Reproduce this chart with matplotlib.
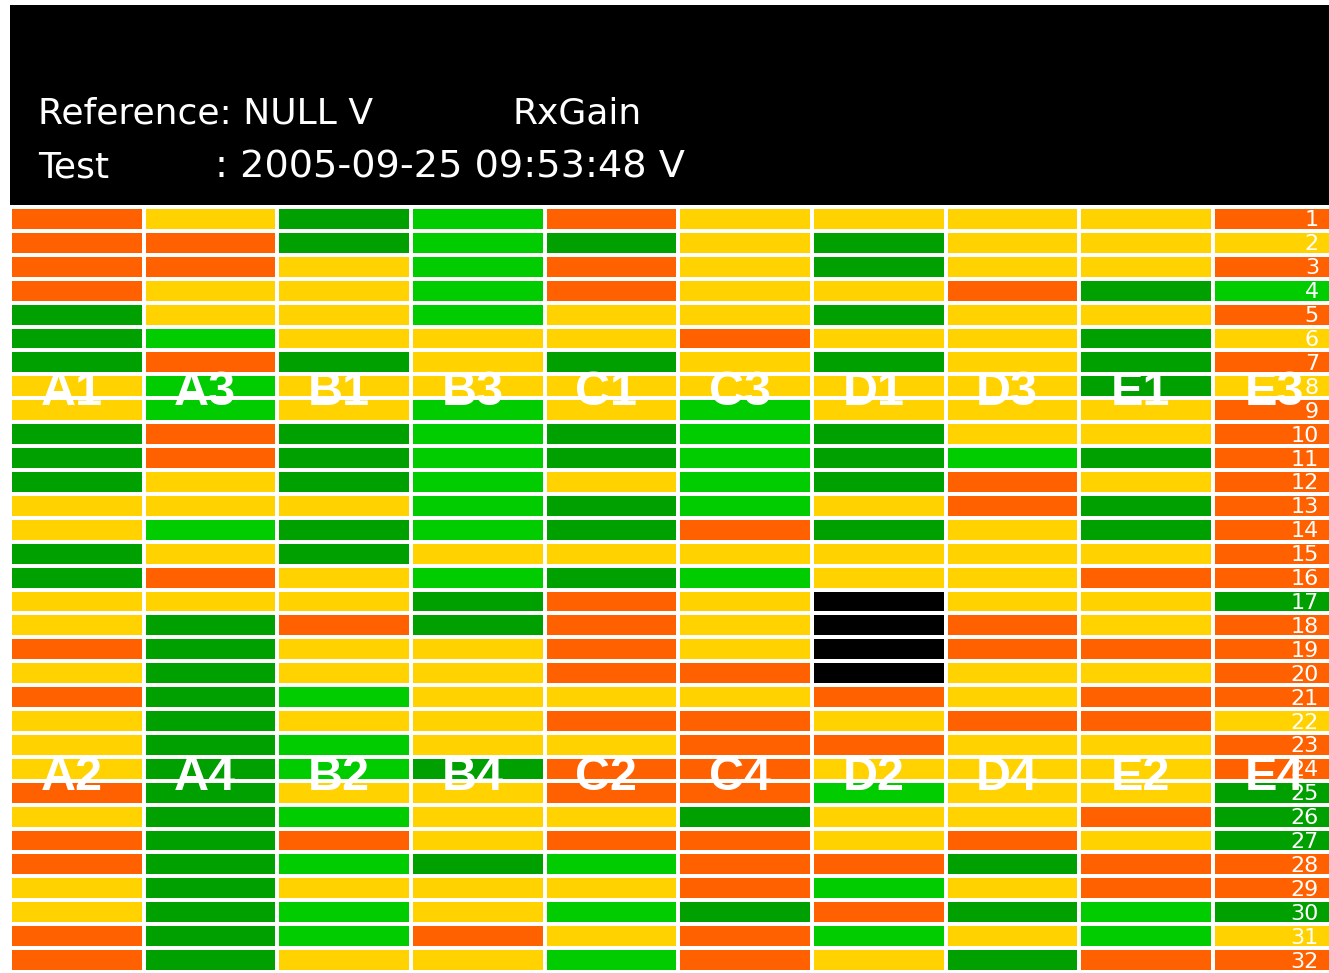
import matplotlib
matplotlib.use("Agg")
import matplotlib.pyplot as plt
from matplotlib.colors import ListedColormap, BoundaryNorm
from matplotlib.patches import Rectangle
import numpy as np

W, H, DPI = 1329, 973, 100

# Module names, top half (rows 1-16) and bottom half (rows 17-32)
modules_top = ["A1", "A3", "B1", "B3", "C1", "C3", "D1", "D3", "E1", "E3"]
modules_bottom = ["A2", "A4", "B2", "B4", "C2", "C4", "D2", "D4", "E2", "E4"]
row_numbers = list(range(1, 33))

# Status per channel: K = no data, O = high deviation, Y = moderate,
# L = good, G = nominal
status_rows = [
    "OYGLOYYYYO",  # 1
    "OOGLGYGYYY",  # 2
    "OOYLOYGYYO",  # 3
    "OYYLOYYOGL",  # 4
    "GYYLYYGYYO",  # 5
    "GLYYYOYYGY",  # 6
    "GOGYGYGYGO",  # 7
    "YLYYYYYYGY",  # 8
    "YLYLYLYYYO",  # 9
    "GOGLGLGYYO",  # 10
    "GOGLGLGLGO",  # 11
    "GYGLYLGOYO",  # 12
    "YYYLGLYOGO",  # 13
    "YLGLGOGYGO",  # 14
    "GYGYYYYYYO",  # 15
    "GOYLGLYYOO",  # 16
    "YYYGOYKYYG",  # 17
    "YGOGOYKOYO",  # 18
    "OGYYOYKOOO",  # 19
    "YGYYOOKYYO",  # 20
    "OGLYYYOYOO",  # 21
    "YGYYOOYOOY",  # 22
    "YGLYYOOYYO",  # 23
    "YGLGOOYYYO",  # 24
    "OGYYOOLYYG",  # 25
    "YGLYYGYYOG",  # 26
    "OGOYOOYOYG",  # 27
    "OGLGLOOGOO",  # 28
    "YGYYYOLYOO",  # 29
    "YGLYLGOGLG",  # 30
    "OGLOYOLYLY",  # 31
    "OGYYLOYGOO",  # 32
]

status_levels = ["K", "O", "Y", "L", "G"]
status_colors = ["#000000", "#FF6000", "#FFD200", "#00CC00", "#00A000"]

codes = np.array([[status_levels.index(c) for c in row] for row in status_rows])
n_rows, n_cols = codes.shape

fig = plt.figure(figsize=(W / DPI, H / DPI), dpi=DPI, facecolor="white")

# Black header band
fig.patches.append(Rectangle((10 / W, 1 - 205 / H), (W - 10) / W, 200 / H,
                             transform=fig.transFigure, facecolor="black",
                             edgecolor="none", zorder=0))

hdr_font = dict(color="white", family="DejaVu Sans", va="baseline")
fig.text(38 / W, 1 - 124 / H, "Reference: NULL V", fontsize=26, **hdr_font)
fig.text(513 / W, 1 - 124 / H, "RxGain", fontsize=26, **hdr_font)
fig.text(38 / W, 1 - 177 / H, "Test", fontsize=26, **hdr_font)
fig.text(215 / W, 1 - 177 / H, ": 2005-09-25 09:53:48 V", fontsize=27.5,
         **hdr_font)

# Channel grid
col_w = 133.67
top_px, bot_px = 207, 972
ax = fig.add_axes([10 / W, 1 - bot_px / H, (W - 10) / W, (bot_px - top_px) / H])
cmap = ListedColormap(status_colors)
norm = BoundaryNorm(np.arange(-0.5, len(status_levels) + 0.5), cmap.N)
ax.pcolormesh(np.arange(n_cols + 1), np.arange(n_rows + 1), codes,
              cmap=cmap, norm=norm, edgecolors="white", linewidth=1.5)
ax.set_xlim(0, (W - 10) / col_w)
ax.set_ylim(n_rows, 0)
ax.axis("off")

label_font = dict(color="white", fontsize=35, fontweight="bold",
                  family=["Liberation Sans", "DejaVu Sans"],
                  ha="center", va="center_baseline", clip_on=False)
for i, (t, b) in enumerate(zip(modules_top, modules_bottom)):
    ax.text(i + 0.46, 7.55, t, **label_font)
    ax.text(i + 0.46, 23.65, b, **label_font)

x_num = (1319 - 10) / col_w
for r in row_numbers:
    ax.text(x_num, r - 0.52, str(r), color="white", fontsize=16,
            family="DejaVu Sans", ha="right", va="center_baseline")

fig.savefig("out.png", dpi=DPI, facecolor="white")
